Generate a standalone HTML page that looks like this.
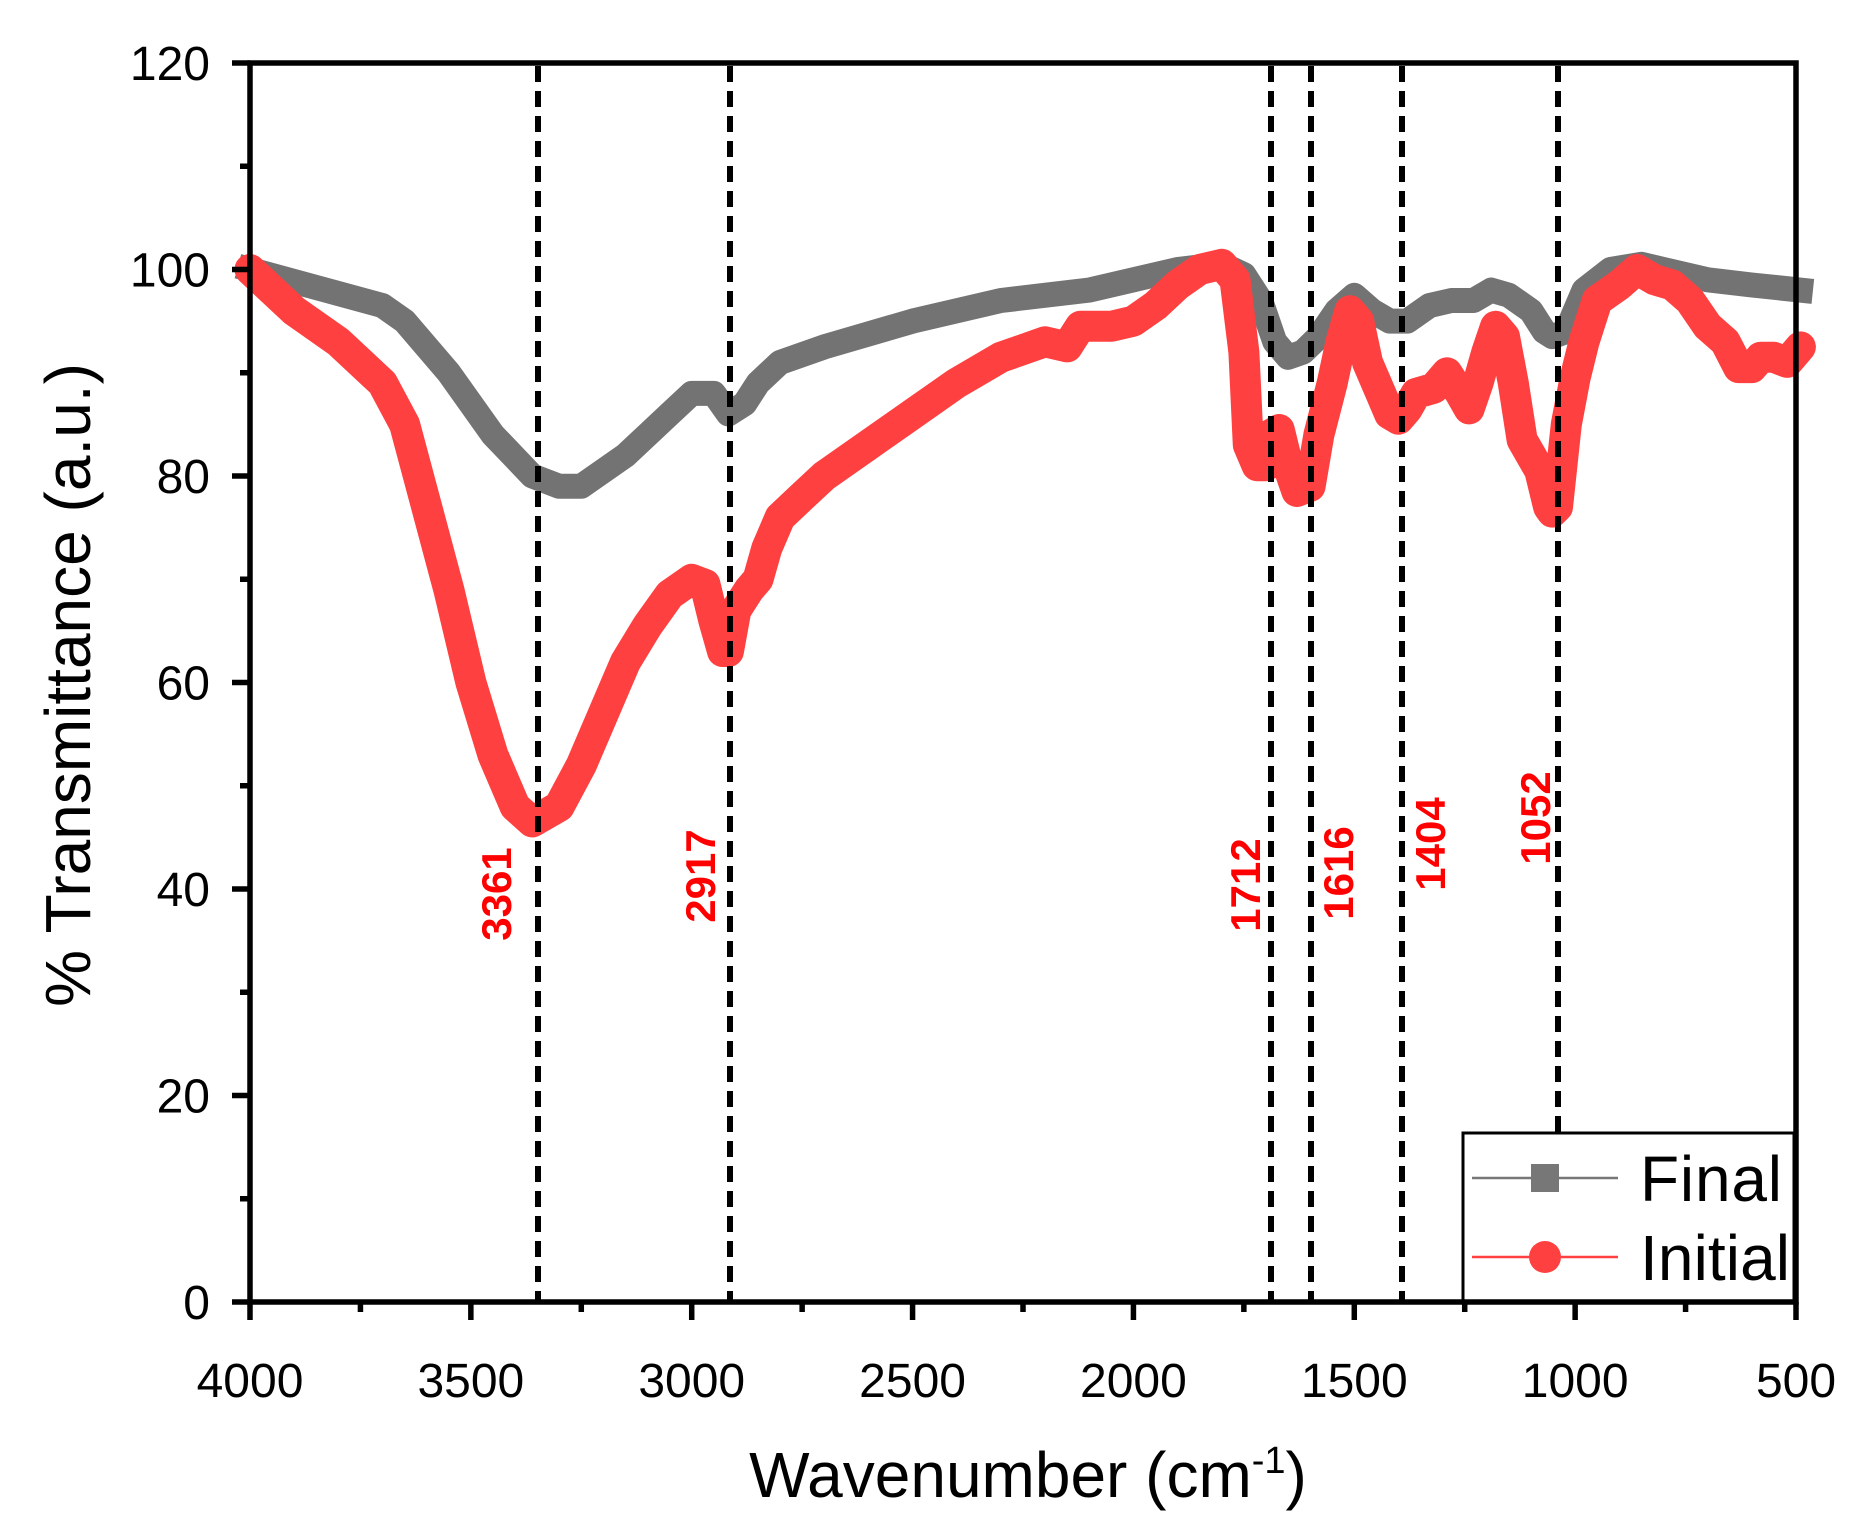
<!DOCTYPE html>
<html><head><meta charset="utf-8"><style>
html,body{margin:0;padding:0;background:#fff}
svg{display:block;font-family:"Liberation Sans",Arial,sans-serif}
</style></head><body>
<svg id="s" width="1859" height="1528" viewBox="0 0 1859 1528" xmlns="http://www.w3.org/2000/svg">
<rect width="1859" height="1528" fill="#fff"/>
<g id="curves"></g>
<g stroke="#000" stroke-width="6" stroke-dasharray="16,9" fill="none">
<line x1="538" y1="66" x2="538" y2="1300"/>
<line x1="730" y1="66" x2="730" y2="1300"/>
<line x1="1271" y1="66" x2="1271" y2="1300"/>
<line x1="1311" y1="66" x2="1311" y2="1300"/>
<line x1="1402" y1="66" x2="1402" y2="1300"/>
<line x1="1558" y1="66" x2="1558" y2="1300"/>
</g>
<g fill="#ff0000" font-weight="bold" font-size="42" text-anchor="middle">
<text transform="translate(511,894) rotate(-90)">3361</text>
<text transform="translate(715,876) rotate(-90)">2917</text>
<text transform="translate(1260,885) rotate(-90)">1712</text>
<text transform="translate(1353,873) rotate(-90)">1616</text>
<text transform="translate(1445,844) rotate(-90)">1404</text>
<text transform="translate(1550,818) rotate(-90)">1052</text>
</g>
<rect x="1463" y="1133" width="331" height="169" fill="#fff" stroke="#000" stroke-width="3"/>
<line x1="1472" y1="1178" x2="1618" y2="1178" stroke="#777" stroke-width="2.5"/>
<rect x="1531" y="1164" width="28" height="28" fill="#777"/>
<line x1="1472" y1="1257" x2="1618" y2="1257" stroke="#ff4040" stroke-width="2.5"/>
<circle cx="1545" cy="1257" r="16" fill="#ff4040"/>
<text x="1640" y="1201" font-size="64" textLength="142">Final</text>
<text x="1640" y="1280" font-size="64" textLength="150">Initial</text>
<rect x="250" y="63" width="1546" height="1239" fill="none" stroke="#000" stroke-width="5.5"/>
<g id="ticks" stroke="#000" stroke-width="5.5"></g>
<g id="labels" font-size="48" fill="#000"></g>
<text x="1028" y="1497" font-size="64" text-anchor="middle">Wavenumber (cm<tspan dy="-24" font-size="38">-1</tspan><tspan dy="24">)</tspan></text>
<text transform="translate(90,685) rotate(-90)" font-size="64" text-anchor="middle">% Transmittance (a.u.)</text>
</svg>
<script>
var NS="http://www.w3.org/2000/svg";
function X(w){return 250+(4000-w)*1546/3500;}
function Y(v){return 1302-v*1239/120;}
function el(t,a,p){var e=document.createElementNS(NS,t);for(var k in a)e.setAttribute(k,a[k]);document.getElementById(p).appendChild(e);return e;}
var gray=[[4000,100],[3700,96.5],[3650,95],[3550,90],[3450,84],[3361,80],[3300,79],[3250,79],[3150,82],[3050,86],[3000,88],[2950,88],[2917,86],[2880,87],[2850,89],[2800,91],[2700,92.5],[2500,95],[2300,97],[2100,98],[2000,99],[1900,100],[1800,100.5],[1750,99.5],[1712,97],[1680,93],[1650,91.5],[1616,92],[1580,93.5],[1540,96],[1500,97.5],[1460,96],[1420,95],[1380,95],[1330,96.5],[1280,97],[1230,97],[1190,98],[1150,97.5],[1100,96],[1070,94],[1052,93.5],[1020,94],[980,98],[920,100],[850,100.5],[800,100],[700,99],[600,98.5],[490,98]];
var red=[[4000,100],[3900,96],[3800,93],[3700,89],[3650,85],[3600,77],[3550,69],[3500,60],[3450,53],[3400,48],[3361,46.5],[3300,48],[3250,52],[3200,57],[3150,62],[3100,65.5],[3050,68.5],[3000,70],[2970,69.5],[2950,66],[2930,63],[2917,63],[2900,67],[2870,69],[2850,70],[2830,73],[2800,76],[2750,78],[2700,80],[2600,83],[2500,86],[2400,89],[2300,91.5],[2200,93],[2150,92.5],[2120,94.5],[2050,94.5],[2000,95],[1950,96.5],[1900,98.5],[1850,100],[1800,100.5],[1770,99],[1750,92],[1740,83],[1720,81],[1700,81],[1690,84],[1670,84.5],[1650,81],[1630,78.5],[1600,79],[1580,84],[1550,89],[1530,93],[1510,96],[1490,95],[1470,91],[1440,88],[1420,86],[1400,85.5],[1380,86.5],[1360,88],[1320,88.5],[1290,90],[1260,88],[1240,86.5],[1220,89],[1200,92],[1180,94.5],[1160,93.5],[1140,89],[1120,83.5],[1100,82],[1080,80.5],[1060,77],[1052,76.5],[1040,77],[1020,85],[1000,89.5],[980,93],[950,97],[900,98.5],[860,100],[820,99],[780,98.5],[740,97],[700,94.5],[660,93],[630,90.5],[600,90.5],[580,91.5],[550,91.5],[520,91],[490,92.5]];
function pts(a){return a.map(function(p){return X(p[0]).toFixed(1)+","+Y(p[1]).toFixed(1)}).join(" ");}
el("polyline",{points:pts(gray),fill:"none",stroke:"#737373","stroke-width":25,"stroke-linejoin":"round","stroke-linecap":"square"},"curves");
el("polyline",{points:pts(red),fill:"none",stroke:"#ff4040","stroke-width":31,"stroke-linejoin":"round","stroke-linecap":"round"},"curves");
for(var w=4000;w>=500;w-=250){var x=X(w),maj=(w%500==0);el("line",{x1:x,y1:1302,x2:x,y2:1302+(maj?18:10)},"ticks");
 if(maj){var t=el("text",{x:x,y:1397,"text-anchor":"middle"},"labels");t.textContent=w;}}
for(var v=0;v<=120;v+=10){var y=Y(v),maj=(v%20==0);el("line",{x1:250,y1:y,x2:250-(maj?18:10),y2:y},"ticks");
 if(maj){var t=el("text",{x:210,y:y+17,"text-anchor":"end"},"labels");t.textContent=v;}}
</script>
</body></html>
